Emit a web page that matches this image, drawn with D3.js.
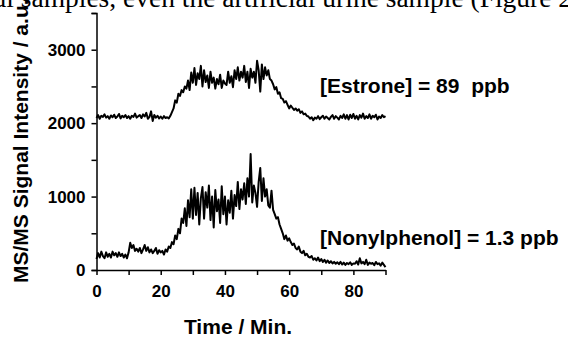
<!doctype html>
<html>
<head>
	<meta charset="utf-8">
	<script src="https://d3js.org/d3.v7.min.js"></script>
	<style>
		body { margin: 0; background: #fff; }
		svg { display: block; }
	</style>
</head>
<body>
	<svg id="chart" width="568" height="337"></svg>
	<script>

	// time axis: 0 to 90 min, one reading every half minute
	var timeStart = 0, timeEnd = 90;

	// [Estrone] trace, a.u.
	var estrone = [
		2070, 2110, 2060, 2100, 2085, 2120, 2075, 2095, 2060, 2105, 2080, 2115, 2070, 2090, 2125, 2065, 2100, 2080, 2110, 2070, 2095,
		2060, 2100, 2085, 2130, 2075, 2095, 2110, 2070, 2120, 2090, 2140, 2060, 2085, 2160, 2030, 2110, 2075, 2100, 2065, 2090,
		2060, 2095, 2070, 2080, 2065, 2100, 2150,
		2200, 2310, 2280, 2400, 2370, 2450, 2420, 2500, 2470, 2580, 2450, 2690, 2550,
		2750, 2520, 2680, 2600, 2780, 2500, 2720, 2560, 2650, 2480, 2700, 2550, 2620, 2470, 2600, 2530, 2660, 2480, 2580, 2540,
		2520, 2700, 2550, 2640, 2490, 2720, 2600, 2760, 2580, 2700, 2620, 2780, 2560, 2700, 2480, 2740, 2620, 2700, 2550, 2850,
		2720, 2430, 2800, 2600, 2760, 2650, 2720, 2600,
		2580, 2530, 2460, 2490, 2400, 2420, 2340, 2330, 2280, 2300, 2250, 2200,
		2240, 2210, 2180, 2200, 2170, 2190, 2140, 2160, 2120, 2130, 2100, 2090,
		2060, 2080, 2040, 2075, 2060, 2095, 2055, 2080, 2100, 2060, 2090, 2070, 2050, 2085, 2110, 2060, 2095, 2075,
		2050, 2100, 2070, 2120, 2060, 2110, 2050, 2115, 2070, 2125, 2060, 2100, 2050, 2110, 2075, 2130, 2060, 2095, 2070, 2120,
		2060, 2100, 2080, 2115, 2050, 2090, 2070, 2110, 2080, 2095
	];

	// [Nonylphenol] trace, a.u.
	var nonylphenol = [
		150, 230, 170, 250, 190, 160, 240, 180, 220, 170, 250, 200, 230, 180, 240, 190, 220, 170, 210, 160, 240,
		370, 300, 340, 260, 290, 250, 300, 230, 280, 340, 260, 310, 240, 280, 230, 260, 300, 220, 270, 240,
		260, 210, 280, 250, 320, 300, 380,
		350, 470, 420, 560, 500, 700, 640, 840, 600, 950, 720, 1100, 700,
		1120, 750, 1050, 620, 980, 1130, 700, 1060, 850, 1150, 680, 1000, 580, 1090, 800, 960, 640, 1140, 760, 1000,
		620, 950, 780, 1080, 700, 1020, 870, 1200, 830, 1100, 960, 1180, 900, 1250, 1000, 1580, 920, 1150, 1050, 860,
		1200, 1390, 940, 1250, 1000, 1100, 880, 850,
		1080, 820, 760, 700, 720, 620, 560, 500, 420, 470, 400, 430,
		380, 340, 360, 300, 280, 320, 250, 230, 260, 200, 220, 180,
		170, 190, 140, 160, 130, 170, 120, 150, 110, 140, 100, 130, 95, 120, 90, 110, 85, 105,
		80, 110, 75, 100, 70, 95, 80, 105, 70, 90, 85, 120, 75, 160, 90, 110, 80, 140, 70, 100,
		85, 95, 65, 110, 80, 90, 60, 100, 70, 40
	];

	var xTicks = [0, 10, 20, 30, 40, 50, 60, 70, 80, 90];
	var xLabels = [0, 20, 40, 60, 80];
	var yTicks = [0, 500, 1000, 1500, 2000, 2500, 3000, 3500];
	var yLabels = [0, 1000, 2000, 3000];

	var labels = [
		{ text: "[Estrone] = 89\u00a0\u00a0ppb", value: 2410 },
		{ text: "[Nonylphenol] = 1.3 ppb", value: 340 }
	];
	var pageText = "al samples, even the artificial urine sample (Figure 2";

	var svg = d3.select("#chart");

	var x = d3.scaleLinear().domain([timeStart, timeEnd]).range([96.5, 385.5]);
	var y = d3.scaleLinear().domain([0, 3500]).range([270, 13]);

	// cut-off line of body text from the page above the figure
	svg.append("text")
		.attr("x", -6)
		.attr("y", 7)
		.style("font-family", "'Liberation Serif', 'Times New Roman', serif")
		.style("font-size", "27.5px")
		.text(pageText);

	// traces
	var line = d3.line()
		.x(function(d, i) { return x(timeStart + i * (timeEnd - timeStart) / (estrone.length - 1)); })
		.y(function(d) { return y(d); });

	[estrone, nonylphenol].forEach(function(series) {
		svg.append("path")
			.datum(series)
			.attr("fill", "none")
			.attr("stroke", "#000")
			.attr("stroke-width", 2)
			.attr("stroke-linejoin", "round")
			.attr("d", line);
	});

	// X axis
	var gx = svg.append("g")
		.attr("transform", "translate(0,270)")
		.call(d3.axisBottom(x)
			.tickValues(xTicks)
			.tickSize(5)
			.tickSizeOuter(0)
			.tickPadding(10)
			.tickFormat(function(d) { return xLabels.indexOf(d) >= 0 ? d : ""; }));

	// Y axis
	var gy = svg.append("g")
		.attr("transform", "translate(96.5,0)")
		.call(d3.axisLeft(y)
			.tickValues(yTicks)
			.tickSize(5)
			.tickSizeOuter(5)
			.tickPadding(6)
			.tickFormat(function(d) { return yLabels.indexOf(d) >= 0 ? d : ""; }));

	[gx, gy].forEach(function(g) {
		g.select(".domain").attr("stroke-width", 1.5);
		g.selectAll(".tick line").attr("stroke-width", 1.5);
		g.selectAll("text")
			.attr("fill", "#000")
			.style("font-family", "'Liberation Sans', Arial, sans-serif")
			.style("font-weight", "bold")
			.style("font-size", "17px");
	});

	// axis titles
	svg.append("text")
		.attr("x", 238)
		.attr("y", 334)
		.attr("text-anchor", "middle")
		.style("font-family", "'Liberation Sans', Arial, sans-serif")
		.style("font-weight", "bold")
		.style("font-size", "21px")
		.text("Time / Min.");

	svg.append("text")
		.attr("transform", "translate(28,283) rotate(-90)")
		.style("font-family", "'Liberation Sans', Arial, sans-serif")
		.style("font-weight", "bold")
		.style("font-size", "21px")
		.text("MS/MS Signal Intensity / a.u.");

	// concentration labels
	svg.selectAll(".conc")
		.data(labels)
		.enter()
		.append("text")
		.attr("class", "conc")
		.attr("x", 320)
		.attr("y", function(d) { return y(d.value); })
		.style("font-family", "'Liberation Sans', Arial, sans-serif")
		.style("font-weight", "bold")
		.style("font-size", "21px")
		.text(function(d) { return d.text; });

	</script>
</body>
</html>
